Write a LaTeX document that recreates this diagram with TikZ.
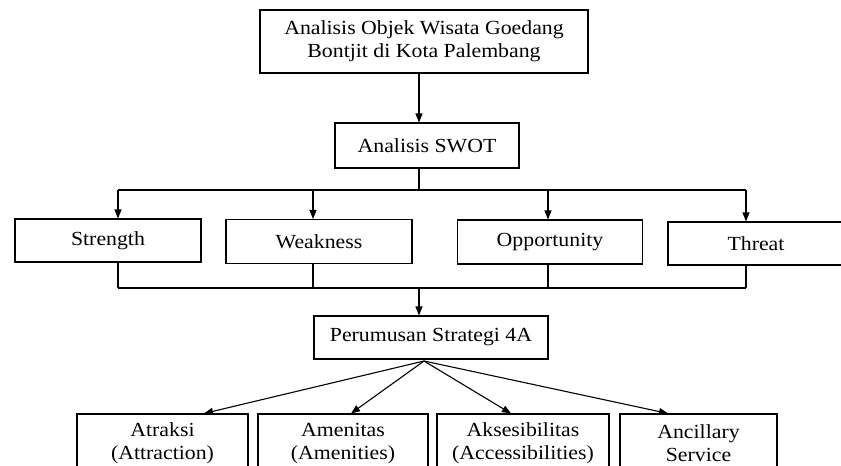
\documentclass[tikz,border=0pt]{standalone}
\usepackage{fontspec}
\setmainfont{Liberation Serif}[FakeStretch=1.09]
\usetikzlibrary{arrows.meta}
\begin{document}
\begin{tikzpicture}[x=1pt,y=-1pt,line width=1.1pt,
  kotak/.style={draw,rectangle,inner sep=0pt,align=center,font=\fontsize{20}{23}\selectfont},
  panah/.style={-{Triangle[length=9pt,width=7pt]}}]
\useasboundingbox (0,0) rectangle (841,466);
% kotak
\node[kotak,minimum width=328,minimum height=63] (judul) at (424,41.5) {Analisis Objek Wisata Goedang\\Bontjit di Kota Palembang};
\node[kotak,minimum width=184,minimum height=45] (swot) at (427,145.5) {Analisis SWOT};
\node[kotak,minimum width=186,minimum height=43] (strength) at (108,240.5) {Strength};
\node[kotak,minimum width=186,minimum height=44] (weakness) at (319,241.5) {Weakness};
\node[kotak,minimum width=185,minimum height=44] (opportunity) at (550,242) {Opportunity};
\node[kotak,minimum width=176,minimum height=43] (threat) at (756,243.5) {Threat};
\node[kotak,minimum width=234,minimum height=43] (perumusan) at (431,337.5) {Perumusan Strategi 4A};
\node[kotak,minimum width=171,minimum height=59] (atraksi) at (162.5,443.5) {Atraksi\\(Attraction)};
\node[kotak,minimum width=170,minimum height=59] (amenitas) at (343,443.5) {Amenitas\\(Amenities)};
\node[kotak,minimum width=172,minimum height=59] (aksesibilitas) at (523,443.5) {Aksesibilitas\\(Accessibilities)};
\node[kotak,minimum width=157,minimum height=59] (ancillary) at (698.5,443.5) {Ancillary\\Service};
% titik bantu
\coordinate (atas) at (419,190);
\coordinate (bawah) at (419,288);
\coordinate (pusat) at (424,361);
% panah
\draw[panah] (judul.south -| atas) -- (swot.north -| atas);
\draw (swot.south -| atas) -- (atas);
\foreach \n/\x in {strength/118,weakness/313,opportunity/548,threat/746}{
  \coordinate (p\n) at (\x,190);
  \draw[panah] (p\n) -- (p\n |- \n.north);
  \draw (\n.south -| p\n) -- (p\n |- bawah);
}
\draw (pstrength) -- (pthreat);
\draw (pstrength |- bawah) -- (pthreat |- bawah);
\draw[panah] (bawah) -- (perumusan.north -| bawah);
\foreach \n/\x in {atraksi/204,amenitas/351,aksesibilitas/511,ancillary/668}{
  \coordinate (q\n) at (\x,0);
  \draw[panah] (pusat) -- (\n.north -| q\n);
}
\end{tikzpicture}
\end{document}
